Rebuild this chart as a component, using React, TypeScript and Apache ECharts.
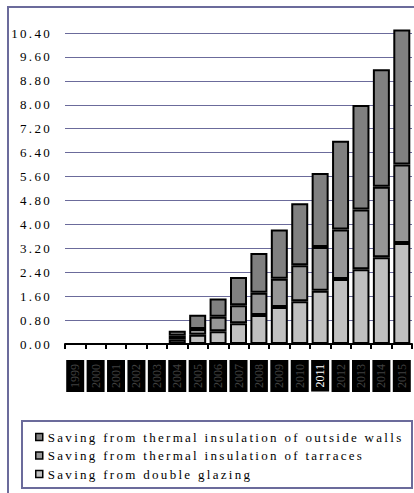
import React, { useEffect, useRef } from "react";
import * as echarts from "echarts";

const years = ["1999","2000","2001","2002","2003","2004","2005","2006","2007","2008","2009","2010","2011","2012","2013","2014","2015"];
const glazing = [null,null,null,null,null,0.14,0.31,0.43,0.69,0.97,1.24,1.43,1.78,2.17,2.50,2.90,3.38];
const tarraces = [null,null,null,null,null,0.14,0.19,0.48,0.61,0.74,0.94,1.20,1.46,1.66,2.00,2.36,2.62];
const walls = [null,null,null,null,null,0.16,0.48,0.61,0.94,1.33,1.65,2.08,2.48,2.97,3.49,3.93,4.52];
const seriesNames = [
  "Saving from thermal insulation of outside walls",
  "Saving from thermal insulation of tarraces",
  "Saving from double glazing",
];

const FRAME = "#6b6b9b";
const SERIF = "'Liberation Serif', 'Times New Roman', serif";
const TXT = "#010101";

export default function App() {
  const ref = useRef<HTMLDivElement>(null);
  useEffect(() => {
    if (!ref.current) return;
    const chart = echarts.init(ref.current, null, { renderer: "svg" });
    const barBase = {
      type: "bar" as const,
      stack: "s",
      barWidth: 17,
      clip: false,
    };
    chart.setOption({
      animation: false,
      backgroundColor: "#fff",
      grid: { left: 65, right: 2, top: 33, bottom: 149 },
      xAxis: {
        type: "category",
        data: years,
        axisLine: { lineStyle: { color: "#000", width: 2 } },
        axisTick: { show: true, length: 5, lineStyle: { color: "#000", width: 2 } },
        axisLabel: {
          interval: 0,
          rotate: 90,
          margin: 16,
          fontFamily: SERIF,
          fontSize: 12,
          color: (v: string, i: number) => (i === 12 ? "#ffffff" : "#404040"),
          backgroundColor: "#000",
          padding: [3, 4, 3, 4],
          lineHeight: 12,
        },
      },
      yAxis: {
        type: "value",
        min: 0,
        max: 10.4,
        interval: 0.8,
        axisLine: { show: false },
        axisTick: { show: false },
        splitLine: { lineStyle: { color: FRAME, width: 1 } },
        axisLabel: {
          margin: 13,
          fontFamily: SERIF,
          fontSize: 13,
          color: TXT,
          formatter: (v: number) => v.toFixed(2),
        },
      },
      legend: {
        orient: "vertical",
        left: 30,
        top: 425,
        icon: "rect",
        itemWidth: 7,
        itemHeight: 7,
        itemGap: 4.5,
        data: seriesNames,
        textStyle: { fontFamily: SERIF, fontSize: 13, color: TXT, lineHeight: 14 },
        itemStyle: { borderColor: "#000", borderWidth: 1.5 },
      },
      graphic: [
        {
          type: "rect",
          shape: { x: 8, y: 7, width: 700, height: 700 },
          style: { fill: "none", stroke: FRAME, lineWidth: 2 },
          silent: true,
          z: -1,
        },
        {
          type: "rect",
          shape: { x: 22, y: 421, width: 390, height: 67 },
          style: { fill: "none", stroke: FRAME, lineWidth: 2 },
          silent: true,
        },
      ],
      series: [
        {
          ...barBase,
          name: seriesNames[2],
          data: glazing,
          itemStyle: { color: "#c0c0c0", borderColor: "#000", borderWidth: 2 },
        },
        {
          ...barBase,
          name: seriesNames[1],
          data: tarraces,
          itemStyle: { color: "#969696", borderColor: "#000", borderWidth: 2 },
        },
        {
          ...barBase,
          name: seriesNames[0],
          data: walls,
          itemStyle: { color: "#808080", borderColor: "#000", borderWidth: 2 },
        },
      ],
    });
    return () => chart.dispose();
  }, []);
  return (
    <>
      <style>{`
        text[fill="rgb(1,1,1)"], text[fill="#010101"] { letter-spacing: 2.3px; }
      `}</style>
      <div
        ref={ref}
        style={{ position: "fixed", left: 0, top: 0, width: 414, height: 493 }}
      />
    </>
  );
}
